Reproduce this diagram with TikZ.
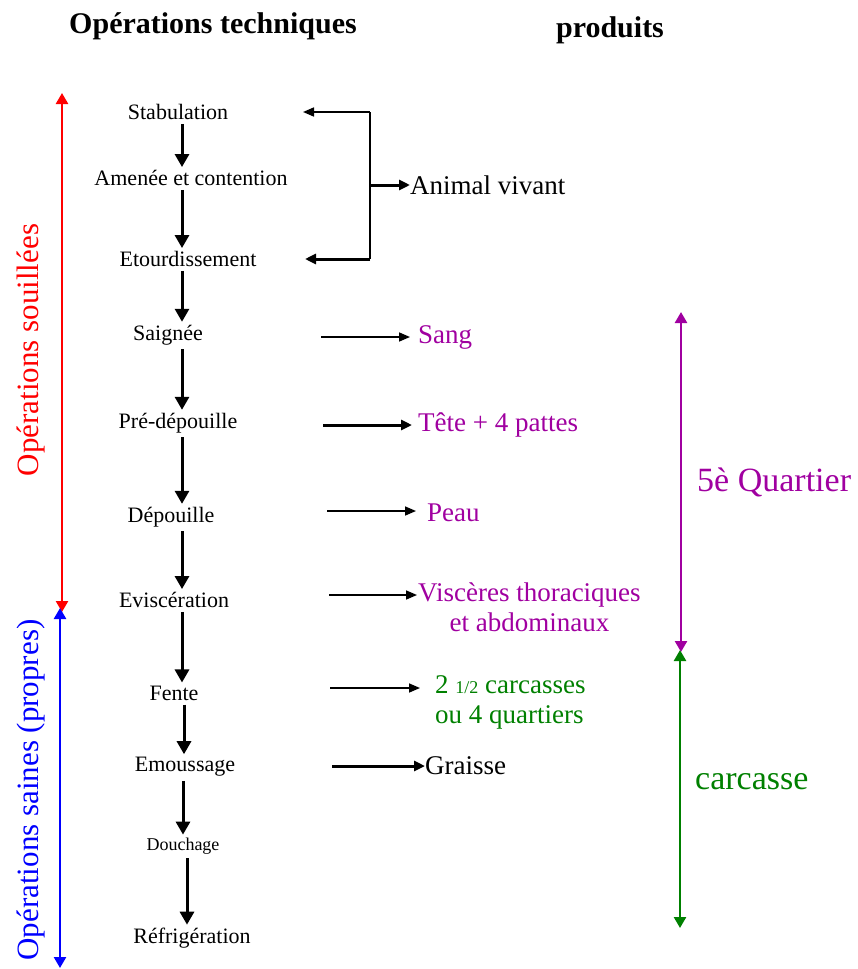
\documentclass[tikz,border=0pt]{standalone}
\usepackage{fontspec}
\setmainfont{Liberation Serif}
\usetikzlibrary{arrows.meta}

\begin{document}
\begin{tikzpicture}[x=1pt,y=-1pt,
    etape/.style={inner sep=0pt, font=\fontsize{22}{25}\selectfont},
    produit/.style={inner sep=0pt, font=\fontsize{27}{30}\selectfont, align=center},
    titre/.style={inner sep=0pt, font=\fontsize{30}{34}\selectfont\bfseries},
    zone/.style={inner sep=0pt, font=\fontsize{34}{38}\selectfont},
    descente/.style={line width=3pt, -{Triangle[length=13pt,width=14pt]}, shorten <=4pt, shorten >=3pt},
    sortie/.style={line width=1.6pt, -{Triangle[length=11pt,width=9pt]}},
    sortieforte/.style={line width=3pt, -{Triangle[length=11pt,width=10pt]}},
    bornes/.style={line width=2.5pt, {Triangle[length=11pt,width=12pt]}-{Triangle[length=11pt,width=12pt]}}]
    % Define colors
    \definecolor{rougeZone}{RGB}{255,0,0}
    \definecolor{bleuZone}{RGB}{0,0,255}
    \definecolor{violetProd}{RGB}{160,0,160}
    \definecolor{vertProd}{RGB}{0,128,0}
    % Page frame
    \useasboundingbox (0,0) rectangle (858,969);
    % Column titles
    \node[titre] (titreop) at (213,26) {Opérations techniques};
    \node[titre] (titreprod) at (610,30) {produits};
    % Technical steps
    \node[etape] (stab) at (178,112) {Stabulation};
    \node[etape] (amenee) at (191,178) {Amenée et contention};
    \node[etape] (etourd) at (188,259) {Etourdissement};
    \node[etape] (saignee) at (168,335) {Saignée};
    \node[etape] (predep) at (178,423) {Pré-dépouille};
    \node[etape] (depouille) at (171,517) {Dépouille};
    \node[etape] (evisc) at (174,600) {Eviscération};
    \node[etape] (fente) at (174,693) {Fente};
    \node[etape] (emous) at (185,767) {Emoussage};
    \node[etape, font=\fontsize{18}{20}\selectfont] (douche) at (183,846) {Douchage};
    \node[etape] (refrig) at (192,938) {Réfrigération};
    % Arrow column
    \coordinate (ax) at (182,0);
    \draw[descente] (stab.south -| ax) -- (amenee.north -| ax);
    \draw[descente] (amenee.south -| ax) -- (etourd.north -| ax);
    \draw[descente] (etourd.south -| ax) -- (saignee.north -| ax);
    \draw[descente] (saignee.south -| ax) -- (predep.north -| ax);
    \draw[descente] (predep.south -| ax) -- (depouille.north -| ax);
    \draw[descente] (depouille.south -| ax) -- (evisc.north -| ax);
    \draw[descente] (evisc.south -| ax) -- (fente.north -| ax);
    \draw[descente] ([xshift=2pt]fente.south -| ax) -- ([xshift=2pt]emous.north -| ax);
    \draw[descente] ([xshift=1pt]emous.south -| ax) -- ([xshift=1pt]douche.north -| ax);
    \draw[descente] ([xshift=5pt]douche.south -| ax) -- ([xshift=5pt]refrig.north -| ax);
    % Products
    \node[produit, anchor=west] (animal) at (410,185) {Animal vivant};
    \node[produit, anchor=west, text=violetProd] (sang) at (418,337) {Sang};
    \node[produit, anchor=west, text=violetProd] (tete) at (418,425) {Tête + 4 pattes};
    \node[produit, anchor=west, text=violetProd] (peau) at (427,513) {Peau};
    \node[produit, anchor=north west, text=violetProd] (visceres) at (418,583) {Viscères thoraciques\\et abdominaux};
    \node[produit, anchor=north west, text=vertProd, align=left] (carcasses) at (435,675) {2 {\fontsize{18}{20}\selectfont 1/2} carcasses\\ou 4 quartiers};
    \node[produit, anchor=west] (graisse) at (425,766) {Graisse};
    % Bracket for live animal
    \coordinate (crochet) at (370,0);
    \draw[line width=1.6pt] (crochet |- stab) -- (crochet |- etourd);
    \draw[sortie] (crochet |- stab) -- (303,112);
    \draw[sortieforte] (crochet |- etourd) -- (305,259);
    \draw[sortieforte] (crochet |- animal) -- (animal.west);
    % Product arrows
    \draw[sortie] (321,337) -- ([xshift=-8pt]sang.west);
    \draw[sortieforte] (323,425) -- ([xshift=-6pt]tete.west);
    \draw[sortie] (327,511) -- (416,511);
    \draw[sortie] (329,595) -- (417,595);
    \draw[sortie] (330,688) -- (420,688);
    \draw[sortieforte] (332,766) -- (graisse.west);
    % Left zones
    \coordinate (souilHaut) at (62,93);
    \coordinate (souilBas) at (62,612);
    \coordinate (propHaut) at (60,608);
    \coordinate (propBas) at (60,968);
    \draw[bornes, rougeZone] (souilHaut) -- (souilBas);
    \draw[bornes, bleuZone] (propHaut) -- (propBas);
    \node[zone, rotate=90, text=rougeZone, font=\fontsize{31}{34}\selectfont] (souil) at (31,350) {Opérations souillées};
    \node[zone, rotate=90, text=bleuZone, font=\fontsize{31}{34}\selectfont] (propres) at (31,790) {Opérations saines (propres)};
    % Right zones
    \coordinate (quartHaut) at (681,312);
    \coordinate (quartBas) at (681,652);
    \coordinate (carcHaut) at (680,650);
    \coordinate (carcBas) at (680,928);
    \draw[bornes, violetProd] (quartHaut) -- (quartBas);
    \draw[bornes, vertProd] (carcHaut) -- (carcBas);
    \node[zone, anchor=west, text=violetProd] (quartier) at (697,482) {5è Quartier};
    \node[zone, anchor=west, text=vertProd] (carcasse) at (695,782) {carcasse};
\end{tikzpicture}
\end{document}
